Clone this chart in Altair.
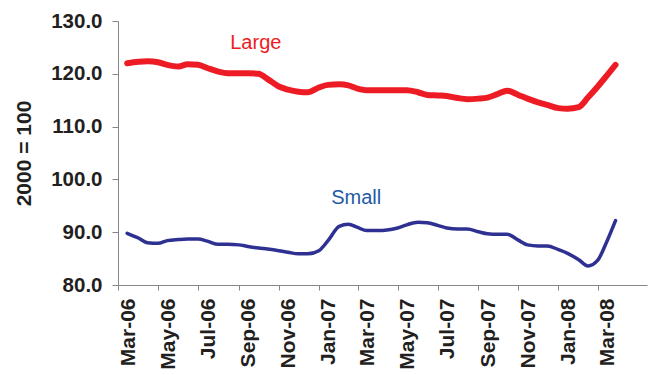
import altair as alt
import pandas as pd

# Semi-monthly observation dates
dates = [
    "2006-03-15", "2006-04-01", "2006-04-15", "2006-05-01", "2006-05-15",
    "2006-06-01", "2006-06-15", "2006-07-01", "2006-07-15", "2006-08-01",
    "2006-08-15", "2006-09-01", "2006-09-15", "2006-10-01", "2006-10-15",
    "2006-11-01", "2006-11-15", "2006-12-01", "2006-12-15", "2007-01-01",
    "2007-01-15", "2007-02-01", "2007-02-15", "2007-03-01", "2007-03-15",
    "2007-04-01", "2007-04-15", "2007-05-01", "2007-05-15", "2007-06-01",
    "2007-06-15", "2007-07-01", "2007-07-15", "2007-08-01", "2007-08-15",
    "2007-09-01", "2007-09-15", "2007-10-01", "2007-10-15", "2007-11-01",
    "2007-11-15", "2007-12-01", "2007-12-15", "2008-01-01", "2008-01-15",
    "2008-02-01", "2008-02-15", "2008-03-01", "2008-03-15", "2008-03-28",
]

# Index values (2000 = 100)
large = [
    122.0, 122.3, 122.4, 122.2, 121.7, 121.4, 121.8, 121.7, 121.1, 120.4,
    120.1, 120.1, 120.1, 120.0, 119.0, 117.6, 117.0, 116.6, 116.5, 117.4,
    117.9, 118.0, 117.8, 117.2, 116.9, 116.9, 116.9, 116.9, 116.9, 116.5,
    116.0, 115.9, 115.8, 115.4, 115.2, 115.3, 115.5, 116.2, 116.8, 116.0,
    115.3, 114.6, 114.1, 113.5, 113.4, 113.7, 115.5, 117.6, 119.7, 121.7,
]
small = [
    89.8, 88.9, 88.0, 87.9, 88.4, 88.6, 88.7, 88.7, 88.3, 87.7,
    87.7, 87.6, 87.3, 87.0, 86.8, 86.5, 86.2, 85.9, 85.9, 86.5,
    88.4, 91.1, 91.5, 90.9, 90.3, 90.3, 90.4, 90.8, 91.4, 91.9,
    91.8, 91.3, 90.8, 90.6, 90.6, 90.1, 89.7, 89.6, 89.6, 88.5,
    87.6, 87.4, 87.4, 86.7, 86.0, 84.8, 83.6, 84.7, 88.3, 92.2,
]

series_names = ["Large", "Small"]
line_colors = ["#ED1C24", "#2E3192"]
label_colors = ["#ED1C24", "#1F5AA6"]

# Series labels placed inside the plot
label_text = ["Large", "Small"]
label_dates = ["2006-09-27", "2007-02-27"]
label_values = [125.8, 96.5]

tick_dates = [
    "2006-03-01", "2006-05-01", "2006-07-01", "2006-09-01", "2006-11-01",
    "2007-01-01", "2007-03-01", "2007-05-01", "2007-07-01", "2007-09-01",
    "2007-11-01", "2008-01-01", "2008-03-01",
]

FONT = "Liberation Sans"
INK = "#231F20"
AXIS_GREY = "#868686"

df = pd.DataFrame({
    "date": pd.to_datetime(dates * 2),
    "value": large + small,
    "series": ["Large"] * len(dates) + ["Small"] * len(dates),
})
labels_df = pd.DataFrame({
    "date": pd.to_datetime(label_dates),
    "value": label_values,
    "text": label_text,
})

def dt(s):
    y, m, d = (int(p) for p in s.split("-"))
    return alt.DateTime(year=y, month=m, date=d)

x_scale = alt.Scale(domain=[dt("2006-03-01"), dt("2008-05-15")], nice=False)
y_scale = alt.Scale(domain=[80, 130], nice=False, zero=False)

x_axis = alt.Axis(
    values=[dt(t) for t in tick_dates],
    format="%b-%y",
    labelAngle=-90,
    labelAlign="right",
    labelBaseline="middle",
    labelOffset=10,
    labelPadding=8,
    labelFont=FONT,
    labelFontSize=21,
    labelFontWeight="bold",
    labelColor=INK,
    labelOverlap=False,
    domainColor=AXIS_GREY,
    tickColor=AXIS_GREY,
    tickSize=5,
    grid=False,
    title=None,
)
y_axis = alt.Axis(
    values=[80, 90, 100, 110, 120, 130],
    format=".1f",
    labelFont=FONT,
    labelFontSize=20.5,
    labelFontWeight="bold",
    labelColor=INK,
    labelPadding=10,
    domainColor=AXIS_GREY,
    tickColor=AXIS_GREY,
    tickSize=6,
    grid=False,
    title="2000 = 100",
    titleFont=FONT,
    titleFontSize=21,
    titleFontWeight="bold",
    titleColor=INK,
    titlePadding=16,
)

lines = alt.Chart(df).mark_line(strokeCap="round", strokeJoin="round", interpolate="monotone").encode(
    x=alt.X("date:T", scale=x_scale, axis=x_axis),
    y=alt.Y("value:Q", scale=y_scale, axis=y_axis),
    color=alt.Color("series:N", scale=alt.Scale(domain=series_names, range=line_colors), legend=None),
    strokeWidth=alt.StrokeWidth("series:N", scale=alt.Scale(domain=series_names, range=[6, 3.5]), legend=None),
)

texts = alt.Chart(labels_df).mark_text(font=FONT, fontSize=20, align="center", baseline="middle").encode(
    x=alt.X("date:T", scale=x_scale),
    y=alt.Y("value:Q", scale=y_scale),
    text="text:N",
    color=alt.Color("text:N", scale=alt.Scale(domain=label_text, range=label_colors), legend=None),
)

chart = (
    alt.layer(lines, texts)
    .resolve_scale(color="independent")
    .properties(
        width=529,
        height=264,
        autosize=alt.AutoSizeParams(type="none"),
        padding={"left": 118, "top": 21, "right": 5, "bottom": 90},
        background="white",
    )
    .configure_view(stroke=None)
)

chart.save("out.html", embed_options={"renderer": "svg", "actions": False})
